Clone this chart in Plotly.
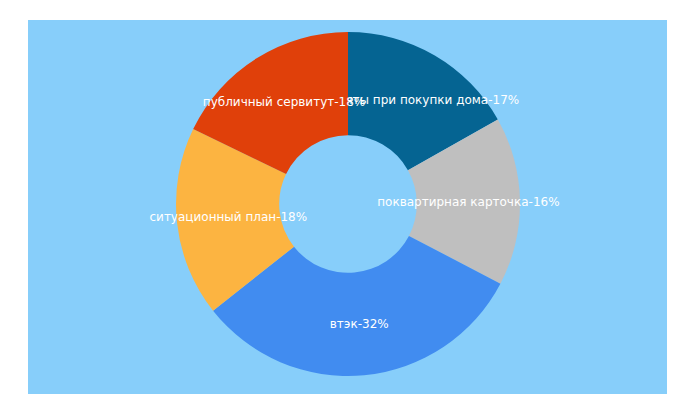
import plotly.graph_objects as go

labels = ["документы при покупки дома", "поквартирная карточка", "втэк", "ситуационный план", "публичный сервитут"]
values = [17, 16, 32, 18, 18]
colors = ["#056492", "#BFBFBF", "#418CF0", "#FCB441", "#E0400A"]

fig = go.Figure(go.Pie(
    labels=labels, values=values, sort=False, direction="clockwise", rotation=0,
    hole=0.4, marker=dict(colors=colors),
    texttemplate="%{label}-%{percent:.0%}", textposition="inside",
    insidetextorientation="horizontal",
    textfont=dict(color="white", size=12, family="DejaVu Sans"),
    domain=dict(x=[0.2, 0.8], y=[0.08, 0.94]), showlegend=False,
))
fig.update_layout(
    width=680, height=400, margin=dict(l=0, r=0, t=0, b=0),
    paper_bgcolor="white",
    uniformtext=dict(minsize=12, mode="show"),
    shapes=[dict(type="rect", xref="paper", yref="paper", x0=20/680, x1=659/680,
                 y0=1-386/400, y1=1-12/400, fillcolor="#87CEFA", line_width=0, layer="below")],
)
fig.write_html("out.html")
